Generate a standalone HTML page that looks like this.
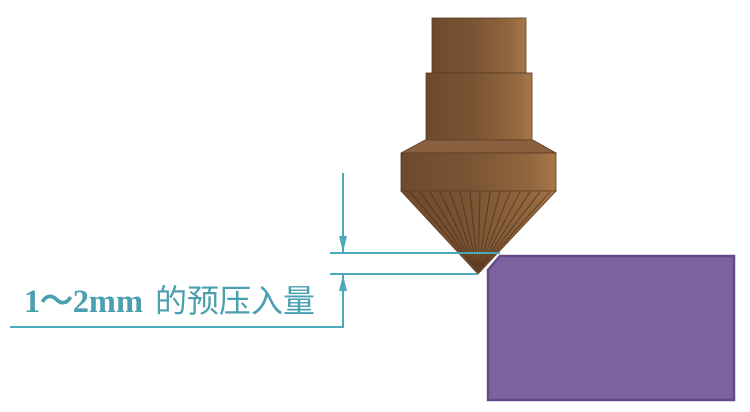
<!DOCTYPE html>
<html><head><meta charset="utf-8"><style>
html,body{margin:0;padding:0;background:#fff;width:750px;height:412px;overflow:hidden}
</style></head><body>
<svg width="750" height="412" viewBox="0 0 750 412" xmlns="http://www.w3.org/2000/svg">
<defs>
<linearGradient id="cu" x1="0" x2="1" y1="0" y2="0">
<stop offset="0" stop-color="#6e4a2c"/><stop offset="0.45" stop-color="#7a5434"/><stop offset="0.85" stop-color="#94683f"/><stop offset="1" stop-color="#a87848"/>
</linearGradient>
</defs>
<rect x="432" y="18" width="94" height="55" fill="url(#cu)" stroke="#5a3c22" stroke-width="0.8"/>
<rect x="426" y="73" width="106" height="67" fill="url(#cu)" stroke="#5a3c22" stroke-width="0.8"/>
<polygon points="425,140 533,140 556,153 401,153" fill="#8a6040" stroke="#5a3c22" stroke-width="0.8"/>
<rect x="401" y="153" width="155" height="38" fill="url(#cu)" stroke="#5a3c22" stroke-width="0.8"/>
<polygon points="401,191 556,191 478,274" fill="url(#cu)" stroke="#5a3c22" stroke-width="0.8"/>
<g stroke="#4a2e18" stroke-width="1.2" opacity="0.6">
<line x1="410" y1="192" x2="478" y2="272"/><line x1="420" y1="192" x2="478" y2="272"/>
<line x1="430" y1="192" x2="478" y2="272"/><line x1="440" y1="192" x2="478" y2="272"/>
<line x1="450" y1="192" x2="478" y2="272"/><line x1="460" y1="192" x2="478" y2="272"/>
<line x1="470" y1="192" x2="478" y2="272"/><line x1="480" y1="192" x2="478" y2="272"/>
<line x1="490" y1="192" x2="478" y2="272"/><line x1="500" y1="192" x2="478" y2="272"/>
<line x1="510" y1="192" x2="478" y2="272"/><line x1="520" y1="192" x2="478" y2="272"/>
<line x1="530" y1="192" x2="478" y2="272"/><line x1="540" y1="192" x2="478" y2="272"/>
<line x1="550" y1="192" x2="478" y2="272"/>
</g>
<polygon points="500,256 734,256 734,400 488,400 488,270" fill="#7e62a0" stroke="#654a88" stroke-width="2.5"/>
<g stroke="#4aa8b8" stroke-width="2" fill="none">
<line x1="330" y1="253" x2="500" y2="253"/>
<line x1="330" y1="274" x2="478" y2="274"/>
<line x1="343" y1="173" x2="343" y2="253"/>
<line x1="343" y1="274" x2="343" y2="327"/>
<line x1="10" y1="327" x2="344" y2="327"/>
</g>
<polygon points="339,236 347,236 343,252" fill="#4aa8b8"/>
<polygon points="339,291 347,291 343,275" fill="#4aa8b8"/>
<text x="24" y="312" font-family="Liberation Serif, serif" font-weight="bold" font-size="33" fill="#4a9fb0" textLength="119" lengthAdjust="spacingAndGlyphs">1～2mm</text>
<text x="155" y="312" font-family="Liberation Sans, Noto Sans CJK SC, sans-serif" font-size="32" fill="#4a9fb0" textLength="160" lengthAdjust="spacingAndGlyphs">的预压入量</text>
</svg>
</body></html>
